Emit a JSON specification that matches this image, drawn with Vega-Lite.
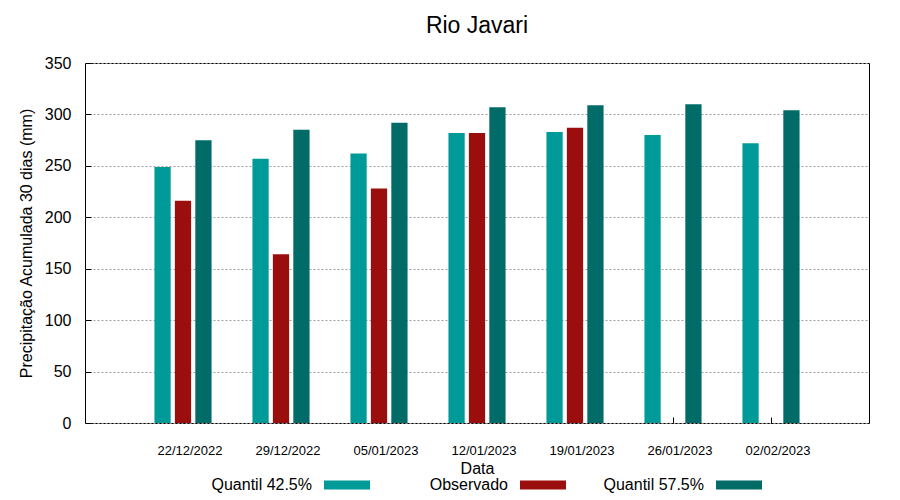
{
  "$schema": "https://vega.github.io/schema/vega-lite/v6.json",
  "width": 784,
  "height": 360,
  "autosize": {"type": "none"},
  "padding": {"left": 85, "top": 63, "right": 31, "bottom": 77},
  "background": "white",
  "config": {
    "font": "Liberation Sans",
    "view": {"stroke": "black", "strokeWidth": 1},
    "axis": {"domain": false, "labelColor": "black", "titleColor": "black", "tickColor": "black", "titleFontWeight": "normal"}
  },
  "title": {"text": "Rio Javari", "fontSize": 23, "fontWeight": "normal", "color": "black", "anchor": "middle", "frame": "group", "offset": -1, "baseline": "alphabetic"},
  "data": {
    "values": [
      {"data": "22/12/2022", "serie": "Quantil 42.5%", "valor": 249},
      {"data": "22/12/2022", "serie": "Observado", "valor": 216},
      {"data": "22/12/2022", "serie": "Quantil 57.5%", "valor": 275},
      {"data": "29/12/2022", "serie": "Quantil 42.5%", "valor": 257},
      {"data": "29/12/2022", "serie": "Observado", "valor": 164},
      {"data": "29/12/2022", "serie": "Quantil 57.5%", "valor": 285},
      {"data": "05/01/2023", "serie": "Quantil 42.5%", "valor": 262},
      {"data": "05/01/2023", "serie": "Observado", "valor": 228},
      {"data": "05/01/2023", "serie": "Quantil 57.5%", "valor": 292},
      {"data": "12/01/2023", "serie": "Quantil 42.5%", "valor": 282},
      {"data": "12/01/2023", "serie": "Observado", "valor": 282},
      {"data": "12/01/2023", "serie": "Quantil 57.5%", "valor": 307},
      {"data": "19/01/2023", "serie": "Quantil 42.5%", "valor": 283},
      {"data": "19/01/2023", "serie": "Observado", "valor": 287},
      {"data": "19/01/2023", "serie": "Quantil 57.5%", "valor": 309},
      {"data": "26/01/2023", "serie": "Quantil 42.5%", "valor": 280},
      {"data": "26/01/2023", "serie": "Quantil 57.5%", "valor": 310},
      {"data": "02/02/2023", "serie": "Quantil 42.5%", "valor": 272},
      {"data": "02/02/2023", "serie": "Quantil 57.5%", "valor": 304}
    ]
  },
  "mark": {"type": "bar"},
  "encoding": {
    "x": {
      "field": "data", "type": "nominal", "sort": null,
      "scale": {"paddingInner": 0, "paddingOuter": 0.5},
      "axis": {"title": "Data", "titleFontSize": 16, "titlePadding": 3, "labelFontSize": 13, "labelAngle": 0, "labelOffset": 7, "labelPadding": 27, "tickSize": -6, "grid": false}
    },
    "xOffset": {
      "field": "serie", "type": "nominal",
      "sort": ["Quantil 42.5%", "Observado", "Quantil 57.5%"],
      "scale": {"paddingInner": 0.205, "paddingOuter": 1.115}
    },
    "y": {
      "field": "valor", "type": "quantitative",
      "scale": {"domain": [0, 350], "nice": false},
      "axis": {"title": "Precipitação Acumulada 30 dias (mm)", "titleFontSize": 16, "labelFontSize": 16, "values": [0, 50, 100, 150, 200, 250, 300, 350], "grid": true, "gridColor": "#a0a0a0", "gridDash": [2, 2], "tickSize": -6, "labelPadding": 20, "titlePadding": 10}
    },
    "color": {
      "field": "serie", "type": "nominal",
      "scale": {"domain": ["Quantil 42.5%", "Observado", "Quantil 57.5%"], "range": ["#009b98", "#9b0e0e", "#006b67"]},
      "legend": {
        "orient": "none", "legendX": 239, "legendY": 399, "direction": "horizontal", "title": null,
        "labelFontSize": 16, "labelColor": "black", "symbolType": "M-1,-0.196H1V0.196H-1Z", "symbolSize": 2116,
        "symbolStrokeWidth": 0, "symbolOpacity": 1, "labelAlign": "right", "labelOffset": -58, "columnPadding": 37, "gridAlign": "all"
      }
    }
  }
}
